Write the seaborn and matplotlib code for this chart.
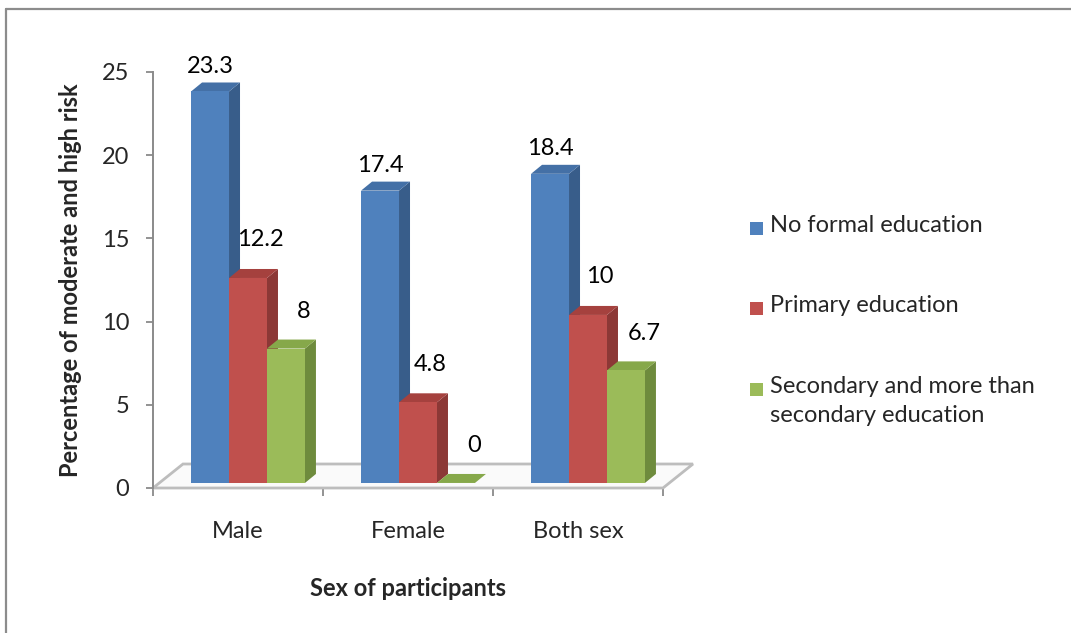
import matplotlib
matplotlib.use("Agg")
import matplotlib.pyplot as plt
from matplotlib.colors import to_hex
from matplotlib.patches import Polygon, Rectangle
from matplotlib.lines import Line2D
import seaborn as sns
import pandas as pd

# Data
categories = ["Male", "Female", "Both sex"]
series = ["No formal education", "Primary education",
          "Secondary and more than secondary education"]
legend_labels = ["No formal education", "Primary education",
                 "Secondary and more than\nsecondary education"]
no_formal = [23.3, 17.4, 18.4]
primary = [12.2, 4.8, 10.0]
secondary = [8.0, 0.0, 6.7]
y_ticks = [0, 5, 10, 15, 20, 25]

front_colors = ["#4F81BD", "#C0504D", "#9BBB59"]
side_colors = ["#385D8A", "#8C3836", "#6E8B3D"]
top_colors = ["#4470A6", "#A5413E", "#86A84A"]

FS = 17

sns.set_theme(style="white")
plt.rcParams["font.family"] = ["Lato", "DejaVu Sans"]

rows = []
for s, vals in zip(series, [no_formal, primary, secondary]):
    for c, v in zip(categories, vals):
        rows.append({"Sex": c, "Education": s, "Value": v})
df = pd.DataFrame(rows)

W, H = 1071, 633
fig = plt.figure(figsize=(W / 100, H / 100), dpi=100)
fig.patch.set_facecolor("white")

# outer chart-area border (left and top edges)
fig.add_artist(Line2D([5.5 / W, 5.5 / W], [0, 1 - 8.5 / H], color="#8C8C8C", lw=1.6))
fig.add_artist(Line2D([5.5 / W, 1], [1 - 8.5 / H, 1 - 8.5 / H], color="#8C8C8C", lw=1.6))

rect = [153 / W, 1 - 488 / H, 510 / W, 416 / H]
ax = fig.add_axes(rect)           # value axis and floor
axb = fig.add_axes(rect)          # 3-D bars
axb.set_facecolor("none")
ax.set_facecolor("none")

sns.barplot(data=df, x="Sex", y="Value", hue="Education", order=categories,
            hue_order=series, palette=front_colors, width=0.67, ax=axb,
            legend=False, saturation=1, errorbar=None)

ax.set_xlim(-0.5, 2.5)
axb.set_xlim(-0.5, 2.5)
ax.set_ylim(0, 25)
axb.set_ylim(-0.3, 24.46)

px_x = 170.0          # pixels per category
px_y = 416 / 24.76    # pixels per unit on the bar axis
dx = 11 / px_x
dy = 9 / px_y
shift = 10 / px_x

patches = sorted(axb.patches, key=lambda p: p.get_x())
for i, p in enumerate(patches):
    p.set_x(p.get_x() + shift)
    x0, w, h = p.get_x(), p.get_width(), p.get_height()
    hexc = to_hex(p.get_facecolor()).upper()
    k = front_colors.index(hexc) if hexc in front_colors else 0
    z = 3 + i * 2
    p.set_zorder(z)
    p.set_edgecolor("none")
    side = Polygon([(x0 + w, 0), (x0 + w + dx, dy), (x0 + w + dx, h + dy), (x0 + w, h)],
                   closed=True, fc=side_colors[k], ec="none", zorder=z - 0.5, clip_on=False)
    top = Polygon([(x0, h), (x0 + dx, h + dy), (x0 + w + dx, h + dy), (x0 + w, h)],
                  closed=True, fc=top_colors[k], ec="none", zorder=z - 0.4, clip_on=False)
    axb.add_patch(side)
    axb.add_patch(top)

# value labels (offsets in pixels from the top-front centre of each bar)
offsets = [(0, 25), (12, 38), (18, 37)]
for k, vals in enumerate([no_formal, primary, secondary]):
    for j, v in enumerate(vals):
        cx = j + shift + (k - 1) * 0.67 / 3
        ox, oy = offsets[k]
        axb.annotate(f"{v:g}", (cx, v), xytext=(ox * 0.72, oy * 0.72),
                     textcoords="offset points", ha="center", va="center",
                     fontsize=FS, color="black", annotation_clip=False, zorder=30)

# floor of the 3-D plot area
fdx, fdy = 30 / px_x, 24 / (416 / 25)
floor = Polygon([(-0.5, 0), (2.5, 0), (2.5 + fdx, fdy), (-0.5 + fdx, fdy)], closed=True,
                fc="#FAFAFA", ec="#BDBDBD", lw=2.0, zorder=1, clip_on=False,
                joinstyle="miter")
ax.add_patch(floor)

# axes styling
for s in ["top", "right", "bottom"]:
    ax.spines[s].set_visible(False)
ax.spines["left"].set_color("#8A8A8A")
ax.spines["left"].set_linewidth(1.4)
ax.set_yticks(y_ticks)
ax.set_yticklabels([str(t) for t in y_ticks], fontsize=FS)
ax.tick_params(axis="y", direction="out", length=5, width=1.3, color="#8A8A8A",
               pad=12, left=True)
ax.set_xticks([-0.5, 0.5, 1.5, 2.5])
ax.set_xticklabels([""] * 4)
ax.set_xticks([0, 1, 2], minor=True)
ax.set_xticklabels(categories, minor=True, fontsize=FS)
ax.tick_params(axis="x", which="major", direction="out", length=6, width=1.3,
               color="#8A8A8A", bottom=True)
ax.tick_params(axis="x", which="minor", length=0, pad=24)
ax.set_ylabel("Percentage of moderate and high risk", fontsize=FS, fontweight="bold",
              labelpad=14)
ax.set_xlabel("Sex of participants", fontsize=FS, fontweight="bold", labelpad=25)
ax.grid(False)
axb.axis("off")

# legend
leg_y = [228, 308, 389]
for k, (lab, yy) in enumerate(zip(legend_labels, leg_y)):
    fig.add_artist(Rectangle((750 / W, 1 - (yy + 6.5) / H), 13 / W, 13 / H,
                             transform=fig.transFigure, fc=front_colors[k], ec="none"))
    fig.text(770 / W, 1 - (yy - 13) / H, lab, fontsize=FS, va="top", ha="left",
             linespacing=1.45)

fig.savefig("out.png", dpi=100)
